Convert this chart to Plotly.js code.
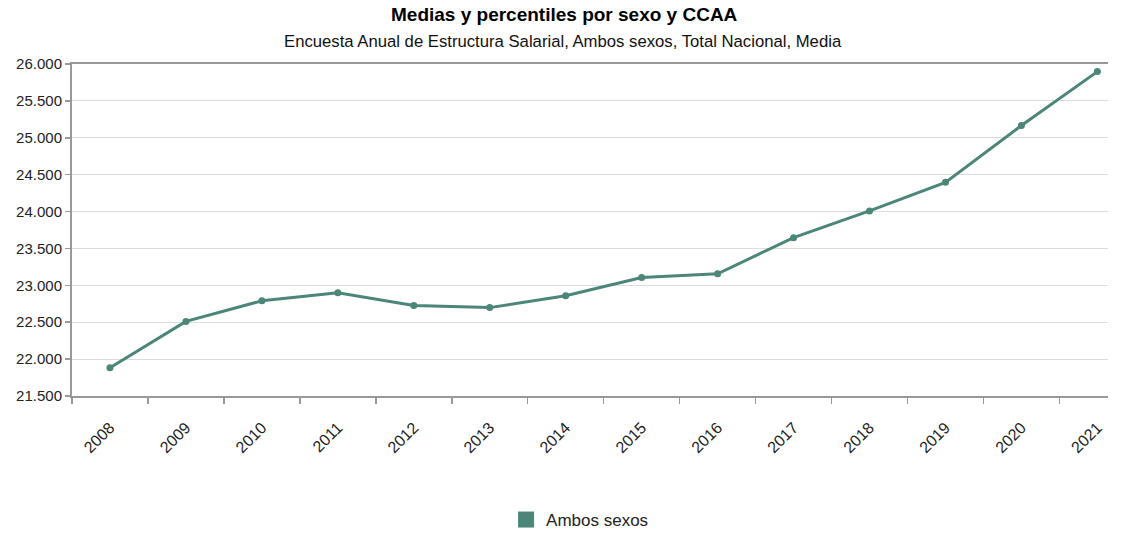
<!DOCTYPE html>
<html><head><meta charset="utf-8">
<script src="https://cdn.plot.ly/plotly-3.0.1.min.js"></script>
<style>html,body{margin:0;padding:0;background:#fff;}#chart{width:1122px;height:538px;}</style>
</head><body><div id="chart"></div>
<script>
const years = ["2008","2009","2010","2011","2012","2013","2014","2015","2016","2017","2018","2019","2020","2021"];
const mediaAmbosSexos = [21883.42,22511.47,22790.20,22899.35,22726.44,22697.86,22858.17,23106.30,23156.34,23646.50,24009.12,24395.98,25165.51,25896.82];
const yTicks = [21500,22000,22500,23000,23500,24000,24500,25000,25500,26000];
const seriesName = "Ambos sexos";
const titleText = "Medias y percentiles por sexo y CCAA";
const subtitleText = "Encuesta Anual de Estructura Salarial, Ambos sexos, Total Nacional, Media";

const color = "#4b8679";
const font = "Liberation Sans, Arial, sans-serif";

const traces = [
  {x: years, y: mediaAmbosSexos, type: "scatter", mode: "lines+markers", name: seriesName, showlegend: false,
   line: {color: color, width: 3}, marker: {color: color, size: 7}, hoverinfo: "x+y"},
  {x: [years[0]], y: [null], type: "scatter", mode: "markers", name: seriesName, showlegend: true,
   marker: {color: color, size: 18, symbol: "square"}}
];

const layout = {
  width: 1122, height: 538,
  margin: {l: 72, r: 14, t: 64, b: 142},
  paper_bgcolor: "#fff", plot_bgcolor: "#fff",
  separators: ",.",
  font: {family: font, size: 15, color: "#222"},
  annotations: [
    {text: "<b>" + titleText + "</b>", xref: "paper", yref: "paper", x: 0.4755, y: 1.1506,
     xanchor: "center", yanchor: "middle", showarrow: false, font: {family: font, size: 19, color: "#000"}},
    {text: subtitleText, xref: "paper", yref: "paper", x: 0.4735, y: 1.069,
     xanchor: "center", yanchor: "middle", showarrow: false, font: {family: font, size: 16.7, color: "#111"}}
  ],
  xaxis: {type: "category", range: [-0.5, 13.14], tickson: "boundaries", ticks: "outside", ticklen: 6,
          tickcolor: "#999", tickwidth: 1.5, showgrid: false, showline: true, linecolor: "#999", linewidth: 2,
          mirror: true, tickangle: -45, ticklabelstandoff: 14, tickfont: {size: 16, color: "#222"},
          zeroline: false, fixedrange: true, automargin: false},
  yaxis: {range: [21500, 26000], tickvals: yTicks, tickformat: ",d", ticks: "outside", ticklen: 5,
          tickcolor: "#999", tickwidth: 1.5, showgrid: true, gridcolor: "#dcdcdc", gridwidth: 1,
          showline: true, linecolor: "#999", linewidth: 2, zeroline: false,
          tickfont: {size: 15, color: "#222"}, fixedrange: true, automargin: false},
  legend: {orientation: "h", x: 0.517, xanchor: "center", xref: "container", y: 0, yanchor: "bottom", yref: "container",
           font: {size: 17, color: "#222"}},
  showlegend: true
};

Plotly.newPlot("chart", traces, layout, {displayModeBar: false, staticPlot: true});
</script></body></html>
